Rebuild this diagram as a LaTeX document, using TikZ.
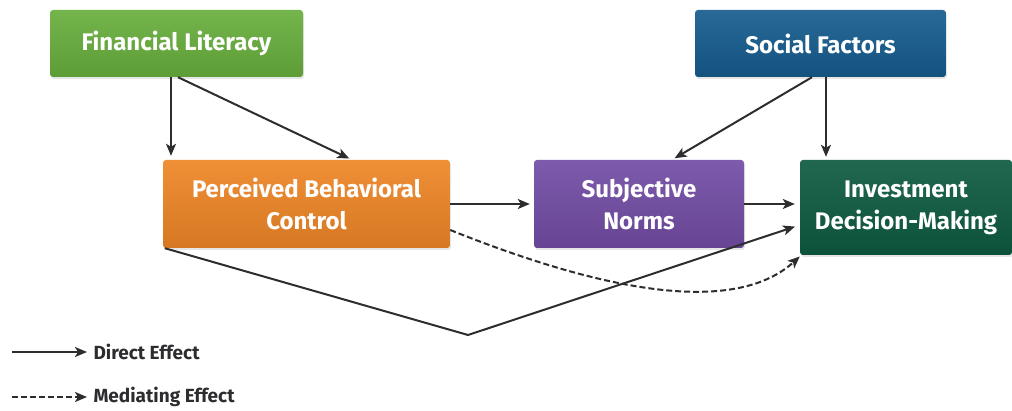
\documentclass[tikz,border=0pt]{standalone}
\usepackage{fontspec}
\setmainfont{Fira Sans}
\usepackage{tikz}
\usetikzlibrary{arrows.meta,shadows}
\definecolor{FinLitGreen}{RGB}{104,174,60}
\definecolor{SocFacBlue}{RGB}{22,92,142}
\definecolor{PbcOrange}{RGB}{238,134,38}
\definecolor{SubNormPurple}{RGB}{114,76,164}
\definecolor{InvDecGreen}{RGB}{14,90,64}
\definecolor{ArrowGray}{RGB}{45,45,48}

\begin{document}
\begin{tikzpicture}[x=1pt,y=1pt,
    box/.style n args={3}{rectangle,rounded corners=3pt,top color=#1!92!white,bottom color=#1!90!black,
       minimum width=#2,minimum height=#3,text=white,align=center,
       font=\bfseries\fontsize{24}{32}\selectfont,
       drop shadow={opacity=0.2,shadow xshift=1pt,shadow yshift=-2pt}},
    arr/.style={draw=ArrowGray,line width=2pt,-{Stealth[length=12pt,width=10pt,inset=3pt]}},
    legtext/.style={anchor=west,text=ArrowGray,font=\bfseries\fontsize{19}{22}\selectfont}]
    \useasboundingbox (0,0) rectangle (1012,-411);
    % boxes
    \node[box={FinLitGreen}{253}{67}] (fl) at (176.5,-43.5) {Financial Literacy};
    \node[box={SocFacBlue}{251}{67}] (sf) at (820.5,-43.5) {Social Factors};
    \node[box={PbcOrange}{287}{88}] (pbc) at (306.5,-204) {Perceived Behavioral\\Control};
    \node[box={SubNormPurple}{210}{88}] (sn) at (639,-204) {Subjective\\Norms};
    \node[box={InvDecGreen}{212}{95}] (idm) at (906,-207.5) {Investment\\Decision-Making};
    \coordinate (bend) at (468,-335);
    % direct effects
    \draw[arr,shorten >=4pt] ([xshift=-5.5pt]fl.south) -- ([xshift=-5.5pt]fl.south |- pbc.north);
    \draw[arr,shorten >=3pt] ([xshift=1.5pt]fl.south) -- ([xshift=45.5pt]pbc.north);
    \draw[arr,shorten >=3pt] ([xshift=-8.5pt]sf.south) -- ([xshift=33pt]sn.north);
    \draw[arr,shorten >=3pt] ([xshift=5.5pt]sf.south) -- ([xshift=5.5pt]sf.south |- idm.north);
    \draw[arr,shorten >=4pt] (pbc.east) -- (sn.west);
    \draw[arr,shorten >=5pt] (sn.east) -- (sn.east -| idm.west);
    \draw[arr,shorten >=5pt] ([xshift=2pt]pbc.south west) -- (bend) -- ([yshift=-17.5pt]idm.west);
    % mediating effect
    \draw[arr,dash pattern=on 6pt off 3pt] ([yshift=-26pt]pbc.east)
       .. controls (640,-306) and (745,-306) .. ([yshift=-49pt]idm.west);
    % legend
    \coordinate (lg1) at (12,-352);
    \coordinate (lg2) at (12,-397);
    \node[legtext] (dlab) at (90,-352) {Direct Effect};
    \node[legtext] (mlab) at (90,-397) {Mediating Effect};
    \draw[arr,shorten >=3pt] (lg1) -- (dlab.west);
    \draw[arr,shorten >=3pt,dash pattern=on 6pt off 3pt] (lg2) -- (mlab.west);
\end{tikzpicture}
\end{document}
